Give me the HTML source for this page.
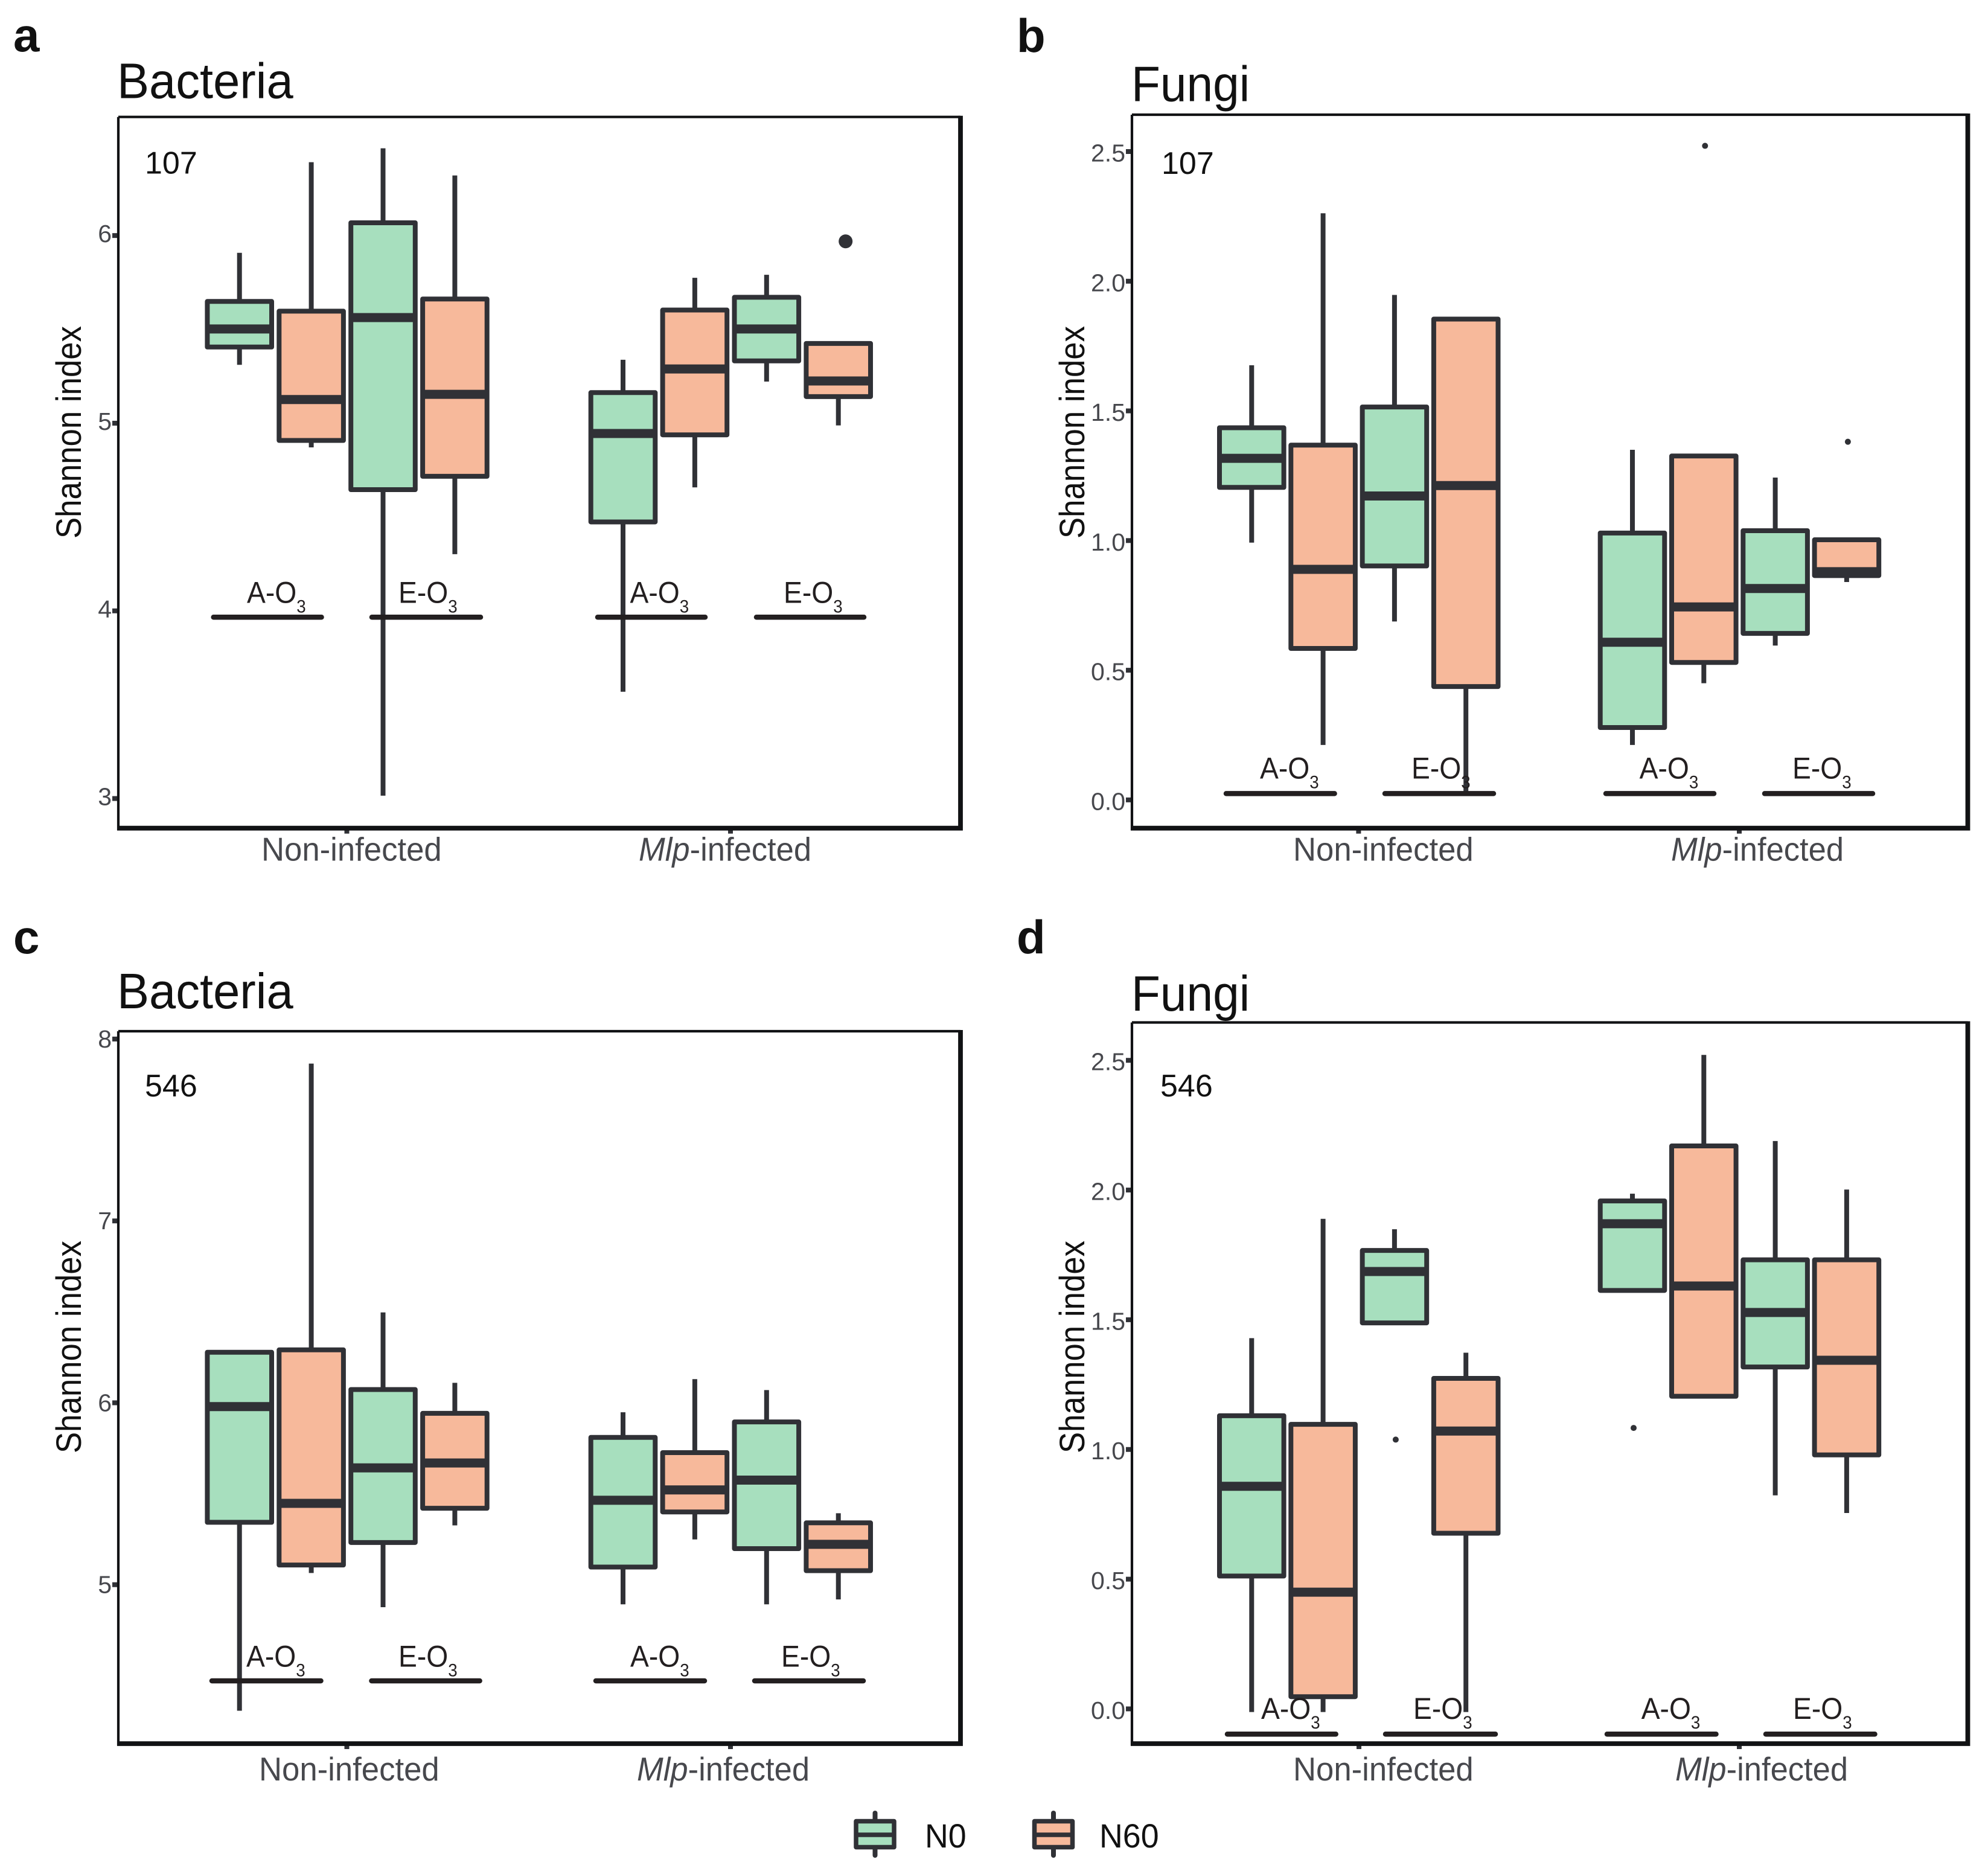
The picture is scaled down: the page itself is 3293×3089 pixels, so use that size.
<!DOCTYPE html>
<html lang="en">
<head>
<meta charset="utf-8">
<title>Shannon index of bacteria and fungi</title>
<style>
html,body{margin:0;padding:0;background:#fff;}
svg{display:block;}
text{font-family:"Liberation Sans",Arial,sans-serif;}
</style>
</head>
<body>
<svg id="figure" xmlns="http://www.w3.org/2000/svg" width="3293" height="3089" viewBox="0 0 3293 3089"></svg>
<script>
// Shared categories
const categories = ["Non A-O3 N0","Non A-O3 N60","Non E-O3 N0","Non E-O3 N60","Mlp A-O3 N0","Mlp A-O3 N60","Mlp E-O3 N0","Mlp E-O3 N60"];
const treatments = ["N0","N60","N0","N60","N0","N60","N0","N60"];

// Panel a - Bacteria 107
const aTicks = [3,4,5,6];
const aTickLabels = ["3","4","5","6"];
const aHigh = [5.908,6.391,6.465,6.32,5.338,5.775,5.791,5.425];
const aQ3 = [5.649,5.597,6.068,5.662,5.163,5.603,5.671,5.425];
const aMedian = [5.502,5.126,5.563,5.154,4.945,5.289,5.502,5.225];
const aQ1 = [5.406,4.908,4.646,4.717,4.474,4.938,5.332,5.142];
const aLow = [5.311,4.871,3.015,4.302,3.569,4.658,5.222,4.988];
const aOutliers = [null,null,null,null,null,null,null,5.969];

// Panel b - Fungi 107
const bTicks = [0,0.5,1,1.5,2,2.5];
const bTickLabels = ["0.0","0.5","1.0","1.5","2.0","2.5"];
const bHigh = [1.676,2.262,1.947,1.863,1.35,1.326,1.243,1.003];
const bQ3 = [1.435,1.368,1.515,1.854,1.029,1.326,1.038,1.003];
const bMedian = [1.317,0.889,1.172,1.212,0.608,0.744,0.815,0.88];
const bQ1 = [1.205,0.584,0.902,0.437,0.279,0.53,0.642,0.865];
const bLow = [0.992,0.212,0.688,0.03,0.212,0.45,0.595,0.84];
const bOutliers = [null,null,null,null,null,2.522,null,1.381];

// Panel c - Bacteria 546
const cTicks = [5,6,7,8];
const cTickLabels = ["5","6","7","8"];
const cHigh = [6.288,7.865,6.497,6.11,5.948,6.13,6.07,5.393];
const cQ3 = [6.278,6.291,6.073,5.942,5.81,5.726,5.895,5.34];
const cMedian = [5.979,5.447,5.642,5.669,5.464,5.521,5.575,5.222];
const cQ1 = [5.343,5.108,5.232,5.42,5.097,5.4,5.198,5.077];
const cLow = [4.307,5.064,4.876,5.326,4.892,5.249,4.892,4.919];
const cOutliers = [null,null,null,null,null,null,null,null];

// Panel d - Fungi 546
const dTicks = [0,0.5,1,1.5,2,2.5];
const dTickLabels = ["0.0","0.5","1.0","1.5","2.0","2.5"];
const dHigh = [1.429,1.889,1.849,1.373,1.986,2.521,2.189,2.002];
const dQ3 = [1.13,1.097,1.767,1.274,1.958,2.17,1.731,1.731];
const dMedian = [0.858,0.45,1.686,1.071,1.87,1.63,1.528,1.344];
const dQ1 = [0.512,0.047,1.488,0.677,1.613,1.205,1.318,0.979];
const dLow = [-0.012,-0.012,1.488,-0.012,1.613,1.205,0.823,0.755];
const dOutliers = [null,null,1.038,null,1.083,null,null,null];

const NS = "http://www.w3.org/2000/svg";
const fillFor = {N0:"#a7dfbe", N60:"#f7b99b"};
const DARK = "#303136";
const figure = document.getElementById("figure");

function make(parent, tag, attrs){
  const el = document.createElementNS(NS, tag);
  for (const k in attrs) el.setAttribute(k, attrs[k]);
  parent.appendChild(el);
  return el;
}
function placed(parent, str, x, y, size, fill, sx, anchor, weight){
  const el = make(parent, "text", {
    transform:"translate("+x+","+y+") scale("+sx+",1)",
    "font-size":size, fill:fill, "text-anchor":anchor||"start", "font-weight":weight||"normal"
  });
  el.textContent = str;
  return el;
}

function drawPanel(p){
  const g = make(figure, "g", {});
  
  

  const yScale = v => p.bottom - (v - p.domain[0]) / (p.domain[1] - p.domain[0]) * (p.bottom - p.top);
  const xScale = i => (i < 4 ? p.x0 : p.x1) + (i % 4) * p.step;

  const letter = placed(g, p.id, p.letterX, p.letterY, 78, "#111", 1, "start", "bold");
  
  

  const title = placed(g, p.title, p.titleX, p.titleY, 83, "#111", p.titleSx);
  
  

  const ylab = make(g, "text", {
    transform:"translate("+p.ylabX+","+p.ylabY+") rotate(-90) scale(0.91,1)",
    "font-size":58, fill:"#111", "text-anchor":"middle"
  });
  ylab.textContent = "Shannon index";
  
  

  // y ticks
  p.ticks.forEach((t, i) => {
    const tick = make(g, "rect", {x:p.left-10, y:yScale(t)-4, width:10, height:8, fill:DARK});
    
    
    const lab = placed(g, p.tickLabels[i], p.left-11, yScale(t)+p.tickDy, 41, "#47484d", 1, "end");
    
    
  });

  // x ticks
  p.xTicks.forEach(xt => {
    const tick = make(g, "rect", {x:xt-4, y:p.bottom, width:8, height:9, fill:DARK});
    
    
  });

  // x labels
  const nonLab = placed(g, "Non-infected", p.nonX, p.xLabY, 55, "#47484d", 0.958);
  
  
  const mlpLab = placed(g, "", p.mlpX, p.xLabY, 55, "#47484d", 0.955);
  
  
  const it = make(mlpLab, "tspan", {"font-style":"italic"});
  it.textContent = "Mlp";
  const rest = make(mlpLab, "tspan", {});
  rest.textContent = "-infected";

  // boxes
  categories.forEach((cat, i) => {
    const cx = xScale(i);
    const box = make(g, "g", {});
    
    

    make(box, "line", {x1:cx, x2:cx, y1:yScale(p.high[i]), y2:yScale(p.low[i]), stroke:DARK, "stroke-width":8});
    make(box, "rect", {
      x:cx-53.3, width:106.6, y:yScale(p.q3[i]), height:yScale(p.q1[i])-yScale(p.q3[i]),
      fill:fillFor[treatments[i]], stroke:DARK, "stroke-width":8, "stroke-linejoin":"round"
    });
    make(box, "line", {x1:cx-53.3, x2:cx+53.3, y1:yScale(p.median[i]), y2:yScale(p.median[i]), stroke:DARK, "stroke-width":15});
    if (p.outliers[i] !== null) {
      const dot = make(box, "circle", {cx:cx+p.outlierDx, cy:yScale(p.outliers[i]), r:p.outlierR, fill:DARK});
      
      
    }
  });

  // ozone brackets
  p.brackets.forEach(b => {
    const line = make(g, "line", {x1:b[0]+4, x2:b[1]-4, y1:p.bracketY, y2:p.bracketY, stroke:"#231f20", "stroke-width":8.5, "stroke-linecap":"round"});
    
    
  });
  p.ozone.forEach(o => {
    const t = placed(g, o[0], o[1], p.ozoneY, 50, "#231f20", 0.925);
    
    
    const sub = make(t, "tspan", {dy:16, "font-size":30});
    sub.textContent = "3";
  });

  // frame
  const frame = make(g, "path", {
    d:"M"+p.left+" "+p.top+"H"+p.right+"M"+p.left+" "+p.top+"V"+(p.bottom+3.5),
    stroke:"#111214", "stroke-width":4.2, fill:"none"
  });
  
  
  const frame2 = make(g, "path", {
    d:"M"+(p.left-2)+" "+p.bottom+"H"+p.right+"V"+(p.top-2),
    stroke:"#111214", "stroke-width":7.8, fill:"none"
  });
  
  

  const sample = placed(g, p.sample, p.sampleX, p.sampleY, 52, "#111", 1);
  
  
}

drawPanel({
  id:"a", title:"Bacteria", sample:"107", titleSx:0.958,
  left:196, right:1591, top:193.7, bottom:1371.7, domain:[2.842,6.632],
  ticks:aTicks, tickLabels:aTickLabels, tickDy:11,
  high:aHigh, q3:aQ3, median:aMedian, q1:aQ1, low:aLow, outliers:aOutliers, outlierR:11.5, outlierDx:12,
  x0:396.7, x1:1032, step:118.9, xTicks:[574.5,1210],
  letterX:22, letterY:85, titleX:194, titleY:162.7, sampleX:240, sampleY:287.3,
  ylabX:134, ylabY:716, nonX:433, mlpX:1058, xLabY:1425.7,
  bracketY:1022.3, brackets:[[349.7,536.5],[612,800],[986,1172],[1249,1435]],
  ozoneY:998.5, ozone:[["A-O",409],["E-O",660],["A-O",1043.5],["E-O",1298]]
});
drawPanel({
  id:"b", title:"Fungi", sample:"107", titleSx:0.945,
  left:1875, right:3259.5, top:190, bottom:1371.7, domain:[-0.109,2.642],
  ticks:bTicks, tickLabels:bTickLabels, tickDy:16.5,
  high:bHigh, q3:bQ3, median:bMedian, q1:bQ1, low:bLow, outliers:bOutliers, outlierR:5, outlierDx:2,
  x0:2073.3, x1:2704, step:118.3, xTicks:[2250.4,2881],
  letterX:1684, letterY:86, titleX:1874, titleY:167.4, sampleX:1924, sampleY:288,
  ylabX:1796, ylabY:716, nonX:2142, mlpX:2768, xLabY:1425.7,
  bracketY:1314.4, brackets:[[2027,2214.6],[2290,2478],[2656,2843],[2919,3106]],
  ozoneY:1289.6, ozone:[["A-O",2087],["E-O",2338],["A-O",2715.6],["E-O",2969]]
});
drawPanel({
  id:"c", title:"Bacteria", sample:"546", titleSx:0.958,
  left:196, right:1591, top:1708, bottom:2888, domain:[4.126,8.043],
  ticks:cTicks, tickLabels:cTickLabels, tickDy:14,
  high:cHigh, q3:cQ3, median:cMedian, q1:cQ1, low:cLow, outliers:cOutliers, outlierR:5, outlierDx:2,
  x0:396.7, x1:1032, step:118.9, xTicks:[574.5,1210],
  letterX:22, letterY:1579, titleX:194, titleY:1670, sampleX:240, sampleY:1816,
  ylabX:134, ylabY:2231, nonX:429, mlpX:1055, xLabY:2949,
  bracketY:2784, brackets:[[347,535.5],[611.5,798.6],[983,1171],[1246,1434]],
  ozoneY:2760.6, ozone:[["A-O",408],["E-O",660],["A-O",1044],["E-O",1294]]
});
drawPanel({
  id:"d", title:"Fungi", sample:"546", titleSx:0.945,
  left:1875, right:3259.5, top:1693.5, bottom:2888, domain:[-0.134,2.646],
  ticks:dTicks, tickLabels:dTickLabels, tickDy:16.5,
  high:dHigh, q3:dQ3, median:dMedian, q1:dQ1, low:dLow, outliers:dOutliers, outlierR:5, outlierDx:2,
  x0:2073.3, x1:2704, step:118.3, xTicks:[2251,2881],
  letterX:1684, letterY:1579, titleX:1874, titleY:1674, sampleX:1922, sampleY:1816,
  ylabX:1796, ylabY:2231, nonX:2142, mlpX:2775, xLabY:2949,
  bracketY:2872.3, brackets:[[2029,2216.7],[2291,2481],[2658,2846.5],[2921,3109.5]],
  ozoneY:2846.8, ozone:[["A-O",2089],["E-O",2341],["A-O",2718.7],["E-O",2970]]
});

// Legend
const legendKeys = ["N0","N60"];
const legendX = [1449.5,1745];
const legendTextX = [1532,1821];
const legend = make(figure, "g", {});


legendKeys.forEach((k, i) => {
  const entry = make(legend, "g", {});
  
  
  const cx = legendX[i];
  make(entry, "line", {x1:cx, x2:cx, y1:3003, y2:3073, stroke:DARK, "stroke-width":8, "stroke-linecap":"round"});
  make(entry, "rect", {x:cx-31.5, y:3016.5, width:63, height:43, fill:fillFor[k], stroke:DARK, "stroke-width":7.5, "stroke-linejoin":"round"});
  make(entry, "line", {x1:cx-31.5, x2:cx+31.5, y1:3039, y2:3039, stroke:DARK, "stroke-width":7.5});
  placed(entry, k, legendTextX[i], 3060, 56, "#111", 0.96);
});
</script>
</body>
</html>
